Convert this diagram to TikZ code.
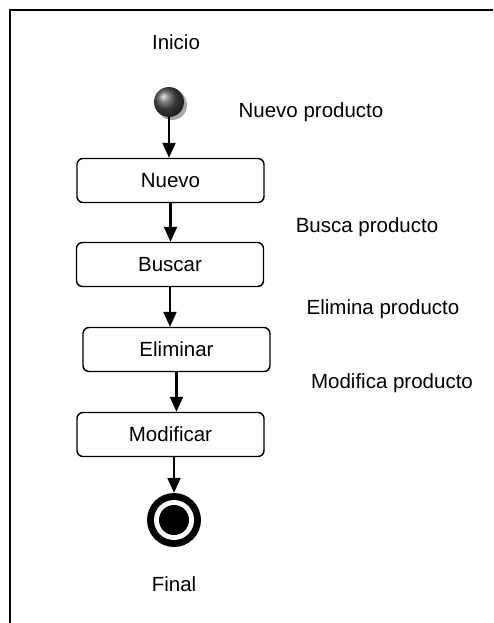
\documentclass[tikz,border=0pt]{standalone}
\usepackage{fontspec}
\setmainfont{Liberation Sans}
\usetikzlibrary{arrows.meta,shadows}

\begin{document}
\begin{tikzpicture}[x=1pt,y=-1pt,
  every node/.style={font=\fontsize{20.5}{24}\selectfont},
  actividad/.style={draw,line width=1.4pt,rounded corners=6pt,minimum width=187pt,minimum height=44pt,inner sep=0pt},
  flecha/.style={-{Triangle[length=15pt,width=13pt]},line width=2.2pt}]
\useasboundingbox (0,0) rectangle (493,623);
\draw[line width=2pt] (9.5,623) -- (9.5,10) -- (493,10);

\node (inicio) at (176,42) {Inicio};
\node[circle,minimum size=30pt,inner sep=0pt,shading=ball,ball color=black!70,
      drop shadow={shadow xshift=3pt,shadow yshift=-3pt,fill=gray!70,opacity=1}] (start) at (169,102) {};

\foreach \nombre/\texto/\x/\y in {nuevo/Nuevo/170.5/180.5, buscar/Buscar/170/264.5,
    eliminar/Eliminar/176.5/349.5, modificar/Modificar/170.5/434.5}
  \node[actividad] (\nombre) at (\x,\y) {\texto};

\node[circle,fill=black,minimum size=54pt,inner sep=0pt] (final) at (174,520) {};
\node[circle,fill=white,minimum size=40pt,inner sep=0pt] at (final) {};
\node[circle,fill=black,minimum size=30pt,inner sep=0pt] at (final) {};
\node (fin) at (174,584) {Final};

% etiquetas de las transiciones
\node (lnuevo) at (311,112) {Nuevo producto};
\node (lbuscar) at (367,227) {Busca producto};
\node (leliminar) at (383,309) {Elimina producto};
\node (lmodificar) at (392,383) {Modifica producto};

\draw[flecha] (start.south) -- (start.south |- nuevo.north);
\draw[flecha] (nuevo.south) -- (nuevo.south |- buscar.north);
\draw[flecha] (buscar.south) -- (buscar.south |- eliminar.north);
\draw[flecha] (eliminar.south) -- (eliminar.south |- modificar.north);
\draw[flecha] (final.north |- modificar.south) -- (final.north);

\end{tikzpicture}
\end{document}
